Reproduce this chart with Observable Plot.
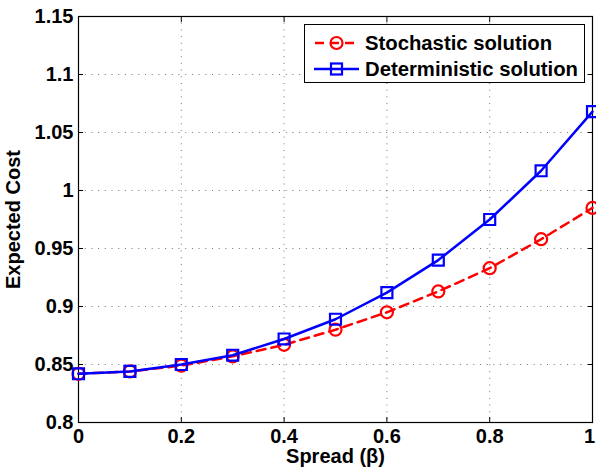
<!DOCTYPE html>
<html>
<head>
<meta charset="utf-8">
<script src="https://cdn.jsdelivr.net/npm/d3@7"></script>
<script src="https://cdn.jsdelivr.net/npm/@observablehq/plot@0.6"></script>
<style>
  html, body { margin: 0; padding: 0; background: #fff; }
  #wrap { position: relative; width: 596px; height: 470px; font-family: "Liberation Sans", Arial, sans-serif; }
  #legend { position: absolute; left: 304px; top: 24px; width: 279px; height: 57px; border: 1px solid #000; background: #fff; }
</style>
</head>
<body>
<div id="wrap"><div id="chart"></div><div id="legend"></div></div>
<script>
const spread = [0, 0.1, 0.2, 0.3, 0.4, 0.5, 0.6, 0.7, 0.8, 0.9, 1.0];
const stochastic = [0.842, 0.844, 0.849, 0.857, 0.867, 0.880, 0.895, 0.913, 0.933, 0.958, 0.985];
const deterministic = [0.842, 0.844, 0.850, 0.858, 0.872, 0.889, 0.912, 0.940, 0.975, 1.017, 1.068];
const xTicks = [0, 0.2, 0.4, 0.6, 0.8, 1];
const yTicks = [0.8, 0.85, 0.9, 0.95, 1, 1.05, 1.1, 1.15];
const seriesNames = ["Stochastic solution", "Deterministic solution"];

const stoch = spread.map((x, i) => ({x, y: stochastic[i]}));
const det = spread.map((x, i) => ({x, y: deterministic[i]}));
const fmt = d => String(+d.toFixed(2));

const chart = Plot.plot({
  width: 596,
  height: 470,
  marginLeft: 78,
  marginRight: 4,
  marginTop: 16,
  marginBottom: 48,
  style: {fontFamily: '"Liberation Sans", Arial, sans-serif', fontSize: "20px", fontWeight: "bold", color: "#000", background: "#fff"},
  x: {domain: [0, 1]},
  y: {domain: [0.8, 1.15]},
  marks: [
    Plot.gridX(xTicks, {stroke: "#000", strokeOpacity: 0.55, strokeDasharray: "1,5.7"}),
    Plot.gridY(yTicks, {stroke: "#000", strokeOpacity: 0.55, strokeDasharray: "1,5.7"}),
    Plot.axisX(xTicks.slice(0, -1), {tickSize: 0, tickPadding: 6, tickFormat: fmt, label: "Spread (β)", labelAnchor: "center", labelArrow: "none", labelOffset: 40, fontSize: 20, fontWeight: "bold"}),
    Plot.axisX(xTicks.slice(-1), {tickSize: 0, tickPadding: 6, tickFormat: fmt, label: null, dx: -3, fontSize: 20, fontWeight: "bold"}),
    Plot.axisX(xTicks, {tickSize: -5, tickFormat: () => "", label: null}),
    Plot.axisX(xTicks, {anchor: "top", tickSize: -5, tickFormat: () => "", label: null}),
    Plot.axisY(yTicks, {tickSize: 0, tickPadding: 5, tickFormat: fmt, label: "Expected Cost", labelAnchor: "center", labelArrow: "none", labelOffset: 73, fontSize: 20, fontWeight: "bold"}),
    Plot.axisY(yTicks, {tickSize: -5, tickFormat: () => "", label: null}),
    Plot.axisY(yTicks, {anchor: "right", tickSize: -5, tickFormat: () => "", label: null}),
    Plot.frame({stroke: "#000", strokeWidth: 1.2}),
    Plot.line(stoch, {x: "x", y: "y", stroke: "#ff0000", strokeWidth: 2.5, strokeDasharray: "9,6"}),
    Plot.dot(stoch, {x: "x", y: "y", r: 6, stroke: "#ff0000", strokeWidth: 2.2, fill: "none"}),
    Plot.line(det, {x: "x", y: "y", stroke: "#0000ff", strokeWidth: 2.5}),
    Plot.dot(det, {x: "x", y: "y", symbol: "square", r: 6.2, stroke: "#0000ff", strokeWidth: 2.2, fill: "none"})
  ]
});
document.getElementById("chart").appendChild(chart);

const legend = document.getElementById("legend");
legend.innerHTML = `
<svg width="279" height="57" style="display:block">
  <g font-family='"Liberation Sans", Arial, sans-serif' font-weight="bold" font-size="20.3" fill="#000">
    <line x1="9" x2="54" y1="18" y2="18" stroke="#ff0000" stroke-width="2.5" stroke-dasharray="9,6" stroke-dashoffset="-1"></line>
    <circle cx="31.5" cy="18" r="6" stroke="#ff0000" stroke-width="2.2" fill="none"></circle>
    <text x="60" y="18" dy="0.36em">${seriesNames[0]}</text>
    <line x1="9" x2="54" y1="44" y2="44" stroke="#0000ff" stroke-width="2.5"></line>
    <rect x="26" y="38.5" width="11" height="11" stroke="#0000ff" stroke-width="2.2" fill="none"></rect>
    <text x="60" y="44" dy="0.36em">${seriesNames[1]}</text>
  </g>
</svg>`;
</script>
</body>
</html>
